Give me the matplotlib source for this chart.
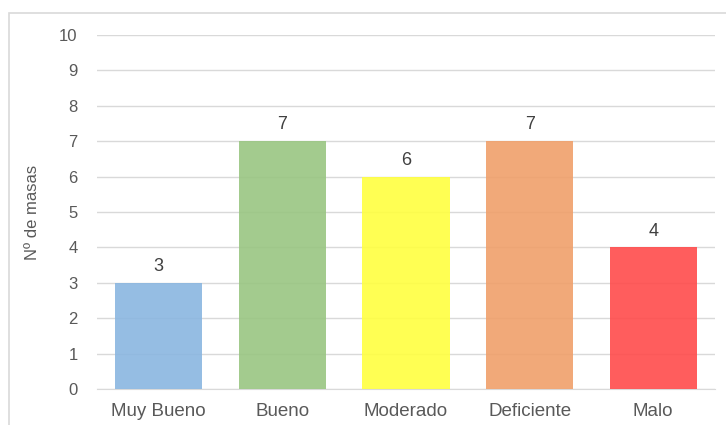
import matplotlib
matplotlib.use("Agg")
from matplotlib import pyplot as plt
from matplotlib.patches import Rectangle

categories = ['Muy Bueno', 'Bueno', 'Moderado', 'Deficiente', 'Malo']
values = [3, 7, 6, 7, 4]
colors = ['#8ab6e0', '#99c682', '#ffff40', '#f0a06a', '#ff4b4b']

plt.rcParams['font.family'] = ['Liberation Sans', 'DejaVu Sans']
txt = '#595959'

W, H = 726, 425
fig = plt.figure(figsize=(W / 100, H / 100), dpi=100)

# outer chart border (cut off at right/bottom like the reference)
fig.patches.append(Rectangle((8.5 / W, -0.1), 1.2, 1 - 13.5 / H + 0.1,
                             transform=fig.transFigure, fill=False,
                             edgecolor='#d9d9d9', linewidth=1.2))

ax = fig.add_axes([97 / W, 1 - 389 / H, (715 - 97) / W, (389 - 35) / H])

x = range(len(categories))
ax.bar(x, values, width=0.705, color=colors, alpha=0.9, zorder=3)
for i, v in enumerate(values):
    ax.text(i, v + 0.22, str(v), ha='center', va='bottom', fontsize=13, color='#404040')

ax.set_ylim(0, 10)
ax.set_xlim(-0.5, len(categories) - 0.5)
ax.set_yticks(range(0, 11))
ax.yaxis.grid(True, color='#d9d9d9', linewidth=1, zorder=0)
ax.set_axisbelow(True)
ax.set_xticks(list(x))
ax.set_xticklabels(categories, fontsize=13.5, color=txt)
ax.tick_params(axis='y', labelsize=12, colors=txt, length=0, pad=14)
ax.tick_params(axis='x', length=0, pad=10)
for s in ['top', 'right', 'left']:
    ax.spines[s].set_visible(False)
ax.spines['bottom'].set_color('#d9d9d9')
ax.set_ylabel('Nº de masas', fontsize=12, color=txt)
ax.yaxis.set_label_coords(-0.092, 0.5)

fig.savefig('out.png', dpi=100)
